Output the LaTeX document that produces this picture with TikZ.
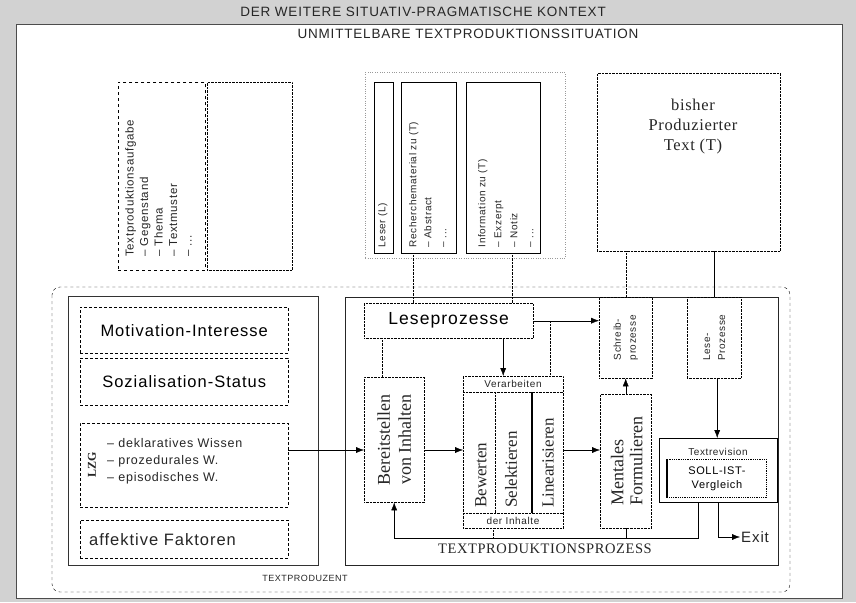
\documentclass[tikz,border=0pt]{standalone}
\usepackage{fontspec}
\setmainfont{Liberation Serif}
\setsansfont{Liberation Sans}
\newfontfamily\widesans[LetterSpace=6]{Liberation Sans}
\newfontfamily\wideserif[LetterSpace=4]{Liberation Serif}
\usetikzlibrary{arrows, arrows.meta, positioning}

\tikzset{
  dbox/.style={draw, densely dotted, inner sep=0pt},
  sbox/.style={draw, inner sep=0pt},
  lbl/.style={inner sep=1pt, text=black!85},
  rtext/.style={rotate=90, inner sep=0pt, align=left, text=black!85}
}

\begin{document}
\begin{tikzpicture}[x=1pt, y=-1pt, >={Latex[length=8pt,width=6pt]}]
  \useasboundingbox (0,0) rectangle (856,602);
  % Kontext
  \fill[gray!35] (0,0) rectangle (856,602);
  \fill[white] (16,24) rectangle (842,598);
  \draw[thick, black!70] (16,24) rectangle (842,598);
  \node[lbl, font=\widesans\fontsize{13.5}{15}\selectfont] (kontext) at (423,12)
    {DER WEITERE SITUATIV-PRAGMATISCHE KONTEXT};
  \node[lbl, font=\widesans\fontsize{13.5}{15}\selectfont] (situation) at (468,34)
    {UNMITTELBARE TEXTPRODUKTIONSSITUATION};

  % obere Kaesten
  \node[draw, dashed, thick, inner sep=0pt, minimum width=87pt, minimum height=188pt,
    anchor=north west] (aufgabe) at (118,82) {};
  \node[dbox, minimum width=85pt, minimum height=188pt, anchor=north west]
    (leer) at (207,82) {};
  \node[rtext, anchor=north west, font=\widesans\fontsize{11.5}{14.5}\selectfont]
    (aufgabetext) at ([xshift=7pt,yshift=14pt]aufgabe.south west)
    {Textproduktionsaufgabe\\– Gegenstand\\– Thema\\– Textmuster\\– ...};
  \node[draw, dotted, black!40, inner sep=0pt, minimum width=200pt, minimum height=186pt,
    anchor=north west] (gruppe) at (365,72) {};
  \node[sbox, minimum width=19pt, minimum height=171pt, anchor=north west]
    (leser) at (374,82) {};
  \node[rtext, anchor=north west, font=\widesans\fontsize{10}{12}\selectfont]
    at ([xshift=4pt,yshift=6pt]leser.south west) {Leser (L)};
  \node[sbox, minimum width=55pt, minimum height=171pt, anchor=north west]
    (material) at (401,82) {};
  \node[rtext, anchor=north west, font=\widesans\fontsize{10}{15}\selectfont]
    at ([xshift=8pt,yshift=6pt]material.south west)
    {Recherchematerial zu (T)\\– Abstract\\– ...};
  \node[sbox, minimum width=74pt, minimum height=171pt, anchor=north west]
    (info) at (466,82) {};
  \node[rtext, anchor=north west, font=\widesans\fontsize{10}{16}\selectfont]
    at ([xshift=12pt,yshift=6pt]info.south west)
    {Information zu (T)\\– Exzerpt\\– Notiz\\– ...};
  \node[dbox, minimum width=183pt, minimum height=178pt, anchor=north west]
    (bisher) at (597,73) {};
  \node[lbl, align=center, font=\wideserif\fontsize{16.5}{20}\selectfont]
    at (693,127) {bisher\\Produzierter\\Text (T)};

  % Textproduzent
  \draw[dashed, rounded corners=8pt] (52,287) rectangle (790,592);
  \node[lbl, font=\widesans\fontsize{9}{10}\selectfont] (produzent) at (305,578) {TEXTPRODUZENT};
  \draw[black!80] (68,296) rectangle (318,565);
  \node[draw, densely dashed, minimum width=208pt, minimum height=46pt, anchor=north west,
    font=\widesans\fontsize{16.5}{18}\selectfont] (motiv) at (80,307) {Motivation-Interesse};
  \node[draw, densely dashed, minimum width=208pt, minimum height=47pt, anchor=north west,
    font=\widesans\fontsize{16.5}{18}\selectfont] (sozial) at (80,358) {Sozialisation-Status};
  \node[draw, densely dashed, minimum width=208pt, minimum height=84pt, anchor=north west]
    (lzg) at (80,423) {};
  \node[rtext, font=\bfseries\fontsize{12}{13}\selectfont] at ([xshift=12pt]lzg.west) {LZG};
  \node[lbl, align=left, anchor=north west, font=\widesans\fontsize{12.5}{17}\selectfont]
    at (106,437) {– deklaratives Wissen\\– prozedurales W.\\– episodisches W.};
  \node[draw, densely dashed, minimum width=208pt, minimum height=38pt, anchor=north west]
    (affekt) at (80,520) {};
  \node[lbl, anchor=west, font=\widesans\fontsize{16.5}{18}\selectfont]
    at ([xshift=8pt]affekt.west) {affektive Faktoren};

  % Textproduktionsprozess
  \draw[black!85] (345,297) rectangle (778,565);
  \node[lbl, font=\wideserif\fontsize{14.5}{16}\selectfont] (prozess) at (545,549)
    {TEXTPRODUKTIONSPROZESS};
  \node[dbox, minimum width=169pt, minimum height=35pt, anchor=north west,
    font=\widesans\fontsize{17.5}{20}\selectfont] (lese) at (364,303) {Leseprozesse};
  \node[dbox, minimum width=60pt, minimum height=125pt, anchor=north west]
    (bereit) at (364,377) {};
  \node[rtext, align=center, font=\fontsize{18}{21}\selectfont] at (bereit.center)
    {Bereitstellen\\von Inhalten};
  \node[dbox, minimum width=100pt, minimum height=152pt, anchor=north west]
    (verarb) at (463,376) {};
  \draw[densely dotted] (463,392) -- (563,392);
  \draw[densely dotted] (463,513) -- (563,513);
  \draw[densely dotted] (495,392) -- (495,513);
  \draw[very thick] (532,392) -- (532,513);
  \node[lbl, font=\widesans\fontsize{10}{11}\selectfont] at (513,384) {Verarbeiten};
  \node[lbl, font=\widesans\fontsize{10}{11}\selectfont] at (513,521) {der Inhalte};
  \node[rtext, anchor=west, font=\fontsize{17}{20}\selectfont] at (481,508) {Bewerten};
  \node[rtext, anchor=west, font=\fontsize{17}{20}\selectfont] at (511,508) {Selektieren};
  \node[rtext, anchor=west, font=\fontsize{17}{20}\selectfont] at (548,508) {Linearisieren};
  \node[dbox, minimum width=53pt, minimum height=81pt, anchor=north west]
    (schreib) at (599,297) {};
  \node[rtext, align=left, font=\widesans\fontsize{10}{15}\selectfont] at (schreib.center)
    {Schreib-\\prozesse};
  \node[dbox, minimum width=54pt, minimum height=81pt, anchor=north west]
    (lesep) at (687,297) {};
  \node[rtext, align=left, font=\widesans\fontsize{10}{15}\selectfont] at (lesep.center)
    {Lese-\\Prozesse};
  \node[dbox, minimum width=51pt, minimum height=134pt, anchor=north west]
    (mental) at (600,394) {};
  \node[rtext, align=left, font=\fontsize{18}{19}\selectfont] at ([xshift=1pt]mental.center)
    {Mentales\\Formulieren};
  \node[sbox, minimum width=118pt, minimum height=64pt, anchor=north west]
    (revision) at (659,438) {};
  \draw[thick] (revision.north east) -- (revision.south east) -- (revision.south west);
  \node[lbl, font=\widesans\fontsize{10}{11}\selectfont] at (718,452) {Textrevision};
  \node[dbox, thick, minimum width=99pt, minimum height=38pt, anchor=north west, align=center,
    font=\widesans\fontsize{11}{14}\selectfont] (soll) at (667,459) {SOLL-IST-\\Vergleich};
  \draw[very thick] (soll.north west) -- (soll.south west);
  \node[lbl, anchor=west, font=\widesans\fontsize{15}{16}\selectfont] (exit) at (740,537) {Exit};

  % Verbindungen
  \coordinate (mitte) at (0,450);
  \coordinate (rueck) at (0,538);
  \coordinate (abzweig) at (550,321);
  \draw[densely dotted] ([xshift=-16pt]material.south) -- ([xshift=-16pt]material.south |- lese.north);
  \draw[densely dotted] ([xshift=9pt]info.south) -- ([xshift=9pt]info.south |- lese.north);
  \draw[densely dotted] (schreib.north |- bisher.south) -- (schreib.north);
  \draw (lesep.north |- bisher.south) -- (lesep.north);
  \draw[->] (lzg.east |- mitte) -- (bereit.west |- mitte);
  \draw[->] (bereit.east |- mitte) -- (verarb.west |- mitte);
  \draw[->] (verarb.east |- mitte) -- (mental.west |- mitte);
  \draw[densely dotted] ([xshift=-12pt]bereit.north |- lese.south) -- ([xshift=-12pt]bereit.north);
  \draw[->] ([xshift=-10pt]verarb.north |- lese.south) -- ([xshift=-10pt]verarb.north);
  \draw[->] (lese.east) -- (lese.east -| schreib.west);
  \draw[densely dotted] (abzweig) -- (abzweig |- verarb.north);
  \draw[->] (mental.north) -- (schreib.south);
  \draw[->] ([xshift=3pt]lesep.south) -- ([xshift=3pt]lesep.south |- revision.north);
  \draw[->] ([xshift=-20pt]revision.south) |- (bereit.south |- rueck) -- (bereit.south);
  \draw[densely dotted] ([xshift=-20pt]verarb.south) -- ([xshift=-20pt]verarb.south |- rueck);
  \draw (mental.south) -- (mental.south |- rueck);
  \draw[->] (revision.south) |- (exit.west);
\end{tikzpicture}
\end{document}
